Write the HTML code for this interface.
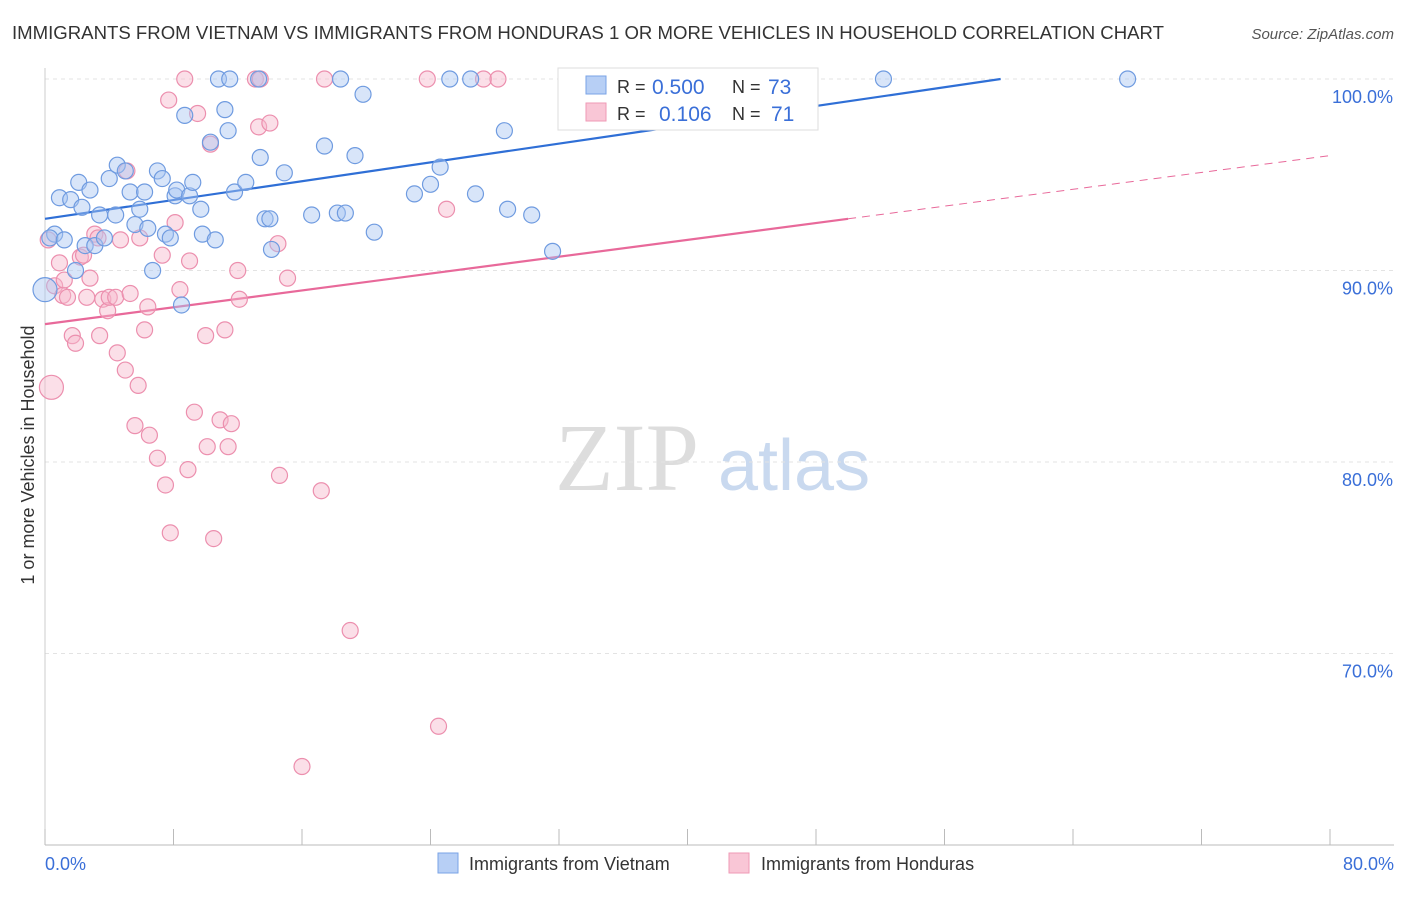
<!DOCTYPE html>
<html><head><meta charset="utf-8"><style>
body{margin:0;background:#fff;font-family:"Liberation Sans",sans-serif}
</style></head><body>
<svg id="chart" width="1406" height="892" xmlns="http://www.w3.org/2000/svg">
<text x="12" y="39" font-size="18" fill="#333" textLength="1152" lengthAdjust="spacingAndGlyphs">IMMIGRANTS FROM VIETNAM VS IMMIGRANTS FROM HONDURAS 1 OR MORE VEHICLES IN HOUSEHOLD CORRELATION CHART</text>
<text x="1394" y="39" font-size="15" fill="#555" font-style="italic" text-anchor="end">Source: ZipAtlas.com</text>
<text x="555" y="490" font-size="96" fill="#ddd" font-family="Liberation Serif,serif">ZIP</text>
<text x="718" y="490" font-size="72" fill="#c9d9ef">atlas</text>
<text transform="translate(34,455) rotate(-90)" font-size="18" fill="#333" text-anchor="middle">1 or more Vehicles in Household</text>
<g id="grid"></g><g id="lines"></g><g id="pts"></g>
<g>
<rect x="558" y="68" width="260" height="62" fill="#fff" stroke="#ddd"/>
<rect x="586" y="76" width="20" height="18" fill="#b7cff5" stroke="#7aa3e6"/>
<rect x="586" y="103" width="20" height="18" fill="#f9c6d6" stroke="#ef9ab6"/>
<text x="617" y="93" font-size="18" fill="#333">R =</text>
<text x="652" y="94" font-size="21" fill="#3a6fd8">0.500</text>
<text x="732" y="93" font-size="18" fill="#333">N =</text>
<text x="768" y="94" font-size="21" fill="#3a6fd8">73</text>
<text x="617" y="120" font-size="18" fill="#333">R =</text>
<text x="659" y="121" font-size="21" fill="#3a6fd8">0.106</text>
<text x="732" y="120" font-size="18" fill="#333">N =</text>
<text x="771" y="121" font-size="21" fill="#3a6fd8">71</text>
</g>
<g>
<rect x="438" y="853" width="20" height="20" fill="#b7cff5" stroke="#7aa3e6"/>
<text x="469" y="870" font-size="18" fill="#333">Immigrants from Vietnam</text>
<rect x="729" y="853" width="20" height="20" fill="#f9c6d6" stroke="#ef9ab6"/>
<text x="761" y="870" font-size="18" fill="#333">Immigrants from Honduras</text>
</g>
</svg>
<script>
const yTicks=[100,90,80,70];
const yTickLabels=["100.0%","90.0%","80.0%","70.0%"];
const xTickVals=[0,8,16,24,32,40,48,56,64,72,80];
const xEndLabels=["0.0%","80.0%"];
const vietX=[0.0,0.6,0.3,0.9,1.2,1.6,1.9,2.1,2.3,2.5,2.8,3.1,3.4,3.7,4.0,4.4,4.5,5.0,5.3,5.6,5.9,6.2,6.4,6.7,7.0,7.3,7.5,7.8,8.1,8.2,8.5,8.7,9.0,9.2,9.7,9.8,10.3,10.6,10.8,11.2,11.4,11.5,11.8,12.5,13.3,13.4,13.7,14.0,14.1,14.9,16.6,17.4,18.4,18.2,18.7,19.3,19.8,20.5,23.0,24.0,24.6,25.2,26.5,26.8,28.6,28.8,30.3,31.6,43.1,52.2,67.4];
const vietY=[89.0,91.9,91.7,93.8,91.6,93.7,90.0,94.6,93.3,91.3,94.2,91.3,92.9,91.7,94.8,92.9,95.5,95.2,94.1,92.4,93.2,94.1,92.2,90.0,95.2,94.8,91.9,91.7,93.9,94.2,88.2,98.1,93.9,94.6,93.2,91.9,96.7,91.6,100,98.4,97.3,100,94.1,94.6,100,95.9,92.7,92.7,91.1,95.1,92.9,96.5,100,93.0,93.0,96.0,99.2,92.0,94.0,94.5,95.4,100,100,94.0,97.3,93.2,92.9,91.0,100,100,100];
const honX=[0.4,0.2,0.6,0.9,1.1,1.2,1.4,1.7,1.9,2.2,2.4,2.6,2.8,3.1,3.3,3.4,3.6,3.9,4.0,4.4,4.5,4.7,5.0,5.1,5.3,5.6,5.8,5.9,6.2,6.4,6.5,7.0,7.3,7.5,7.7,7.8,8.1,8.4,8.7,8.9,9.0,9.3,9.5,10.0,10.1,10.3,10.5,10.9,11.2,11.4,11.6,12.0,12.1,13.1,13.3,14.0,14.5,14.6,15.1,17.2,17.4,19.0,23.8,24.5,25.0,27.3,28.2,16.0,13.4];
const honY=[83.9,91.6,89.2,90.4,88.7,89.5,88.6,86.6,86.2,90.7,90.8,88.6,89.6,91.9,91.7,86.6,88.5,87.9,88.6,88.6,85.7,91.6,84.8,95.2,88.8,81.9,84.0,91.7,86.9,88.1,81.4,80.2,90.8,78.8,98.9,76.3,92.5,89.0,100,79.6,90.5,82.6,98.2,86.6,80.8,96.6,76.0,82.2,86.9,80.8,82.0,90.0,88.5,100,97.5,97.7,91.4,79.3,89.6,78.5,100,71.2,100,66.2,93.2,100,100,64.1,100];
const trendIntercepts=[92.7,87.2];
const trendSlopes=[0.1227,0.11];
const X=v=>45+v*(1285/80), Y=v=>79+(100-v)*19.15;
const NS="http://www.w3.org/2000/svg";
function mk(p,t,a){const e=document.createElementNS(NS,t);for(const k in a)e.setAttribute(k,a[k]);p.appendChild(e);return e;}
const g=document.getElementById('grid');
yTicks.forEach((v,i)=>{
 const l=mk(g,'line',{x1:45,x2:1394,y1:Y(v),y2:Y(v),stroke:'#e3e3e3','stroke-dasharray':'4,4'});
 
 
 const t=mk(g,'text',{x:1393,y:Y(v)+24,'font-size':18,fill:'#3a6fd8','text-anchor':'end'});
 t.textContent=yTickLabels[i];
 
 
});
const ax=mk(g,'line',{x1:45,x2:1394,y1:845,y2:845,stroke:'#bbb'});


const ay=mk(g,'line',{x1:45,x2:45,y1:68,y2:845,stroke:'#ccc'});


xTickVals.forEach(v=>{const t=mk(g,'line',{x1:X(v),x2:X(v),y1:829,y2:845,stroke:'#bbb'});
 
 });
[[0,'start',45],[80,'end',1394]].forEach((d,i)=>{const t=mk(g,'text',{x:d[2],y:870,'font-size':18,fill:'#3a6fd8','text-anchor':d[1]});t.textContent=xEndLabels[i];
 
 });
const pg=document.getElementById('pts');
function pts(xs,ys,fill,stroke,name){xs.forEach((x,i)=>{
 const big=(i===0);
 const c=mk(pg,'circle',{cx:X(x),cy:Y(ys[i]),r:big?12:8,fill:fill,'fill-opacity':0.45,stroke:stroke,'stroke-width':1.2});
 
 });}
pts(honX,honY,'#f7b8cc','#ec8fae','point-honduras');
pts(vietX,vietY,'#a9c6f2','#6f9be0','point-vietnam');
const lg=document.getElementById('lines');
const bEnd=(100-trendIntercepts[0])/trendSlopes[0];
const bl=mk(lg,'line',{x1:X(0),y1:Y(trendIntercepts[0]),x2:X(bEnd),y2:Y(100),stroke:'#2f6fd6','stroke-width':2.2});


const pl=mk(lg,'line',{x1:X(0),y1:Y(trendIntercepts[1]),x2:X(50),y2:Y(trendIntercepts[1]+trendSlopes[1]*50),stroke:'#e8699a','stroke-width':2.2});


const pd=mk(lg,'line',{x1:X(50),y1:Y(trendIntercepts[1]+trendSlopes[1]*50),x2:X(80),y2:Y(trendIntercepts[1]+trendSlopes[1]*80),stroke:'#e8699a','stroke-width':1,'stroke-dasharray':'8,6'});


</script>
</body></html>
